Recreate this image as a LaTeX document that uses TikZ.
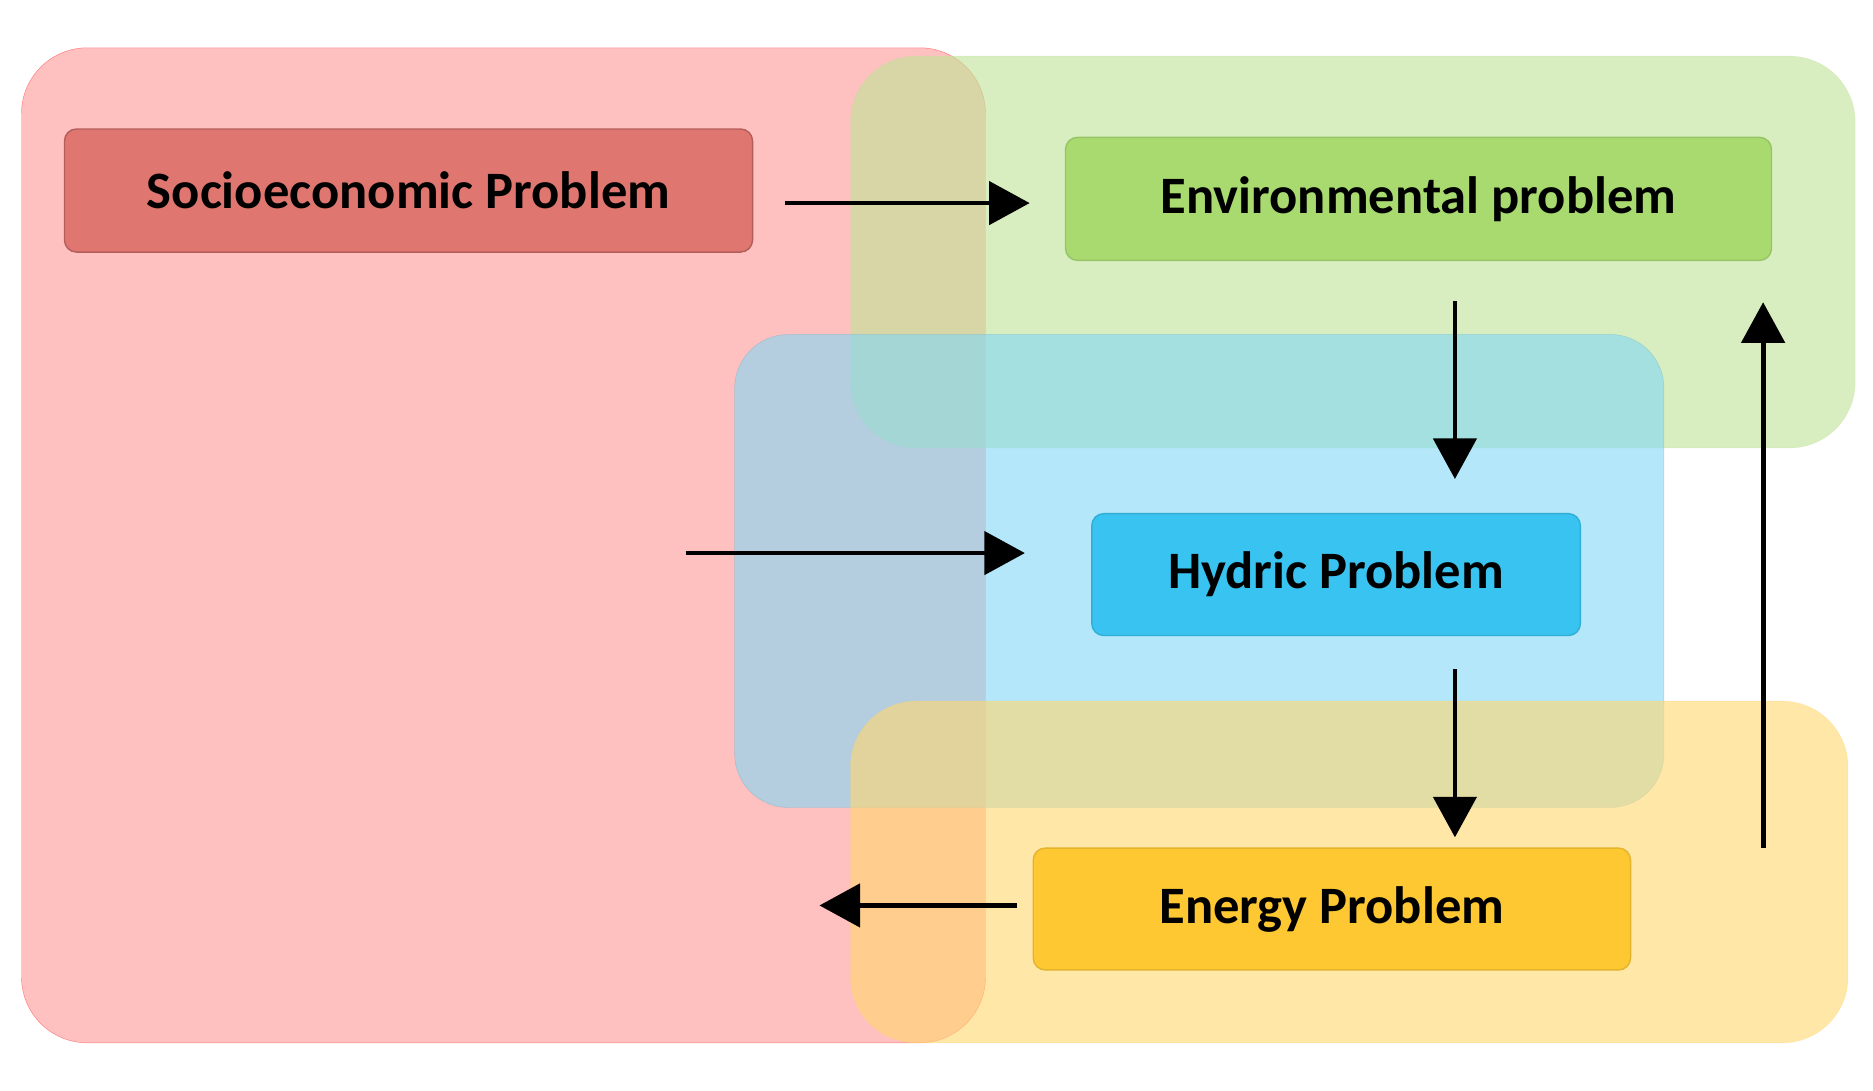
\documentclass[tikz,border=0pt]{standalone}
\usepackage{fontspec}
\setmainfont{Carlito}
\usetikzlibrary{arrows.meta}
\definecolor{rR}{RGB}{255,150,150}
\definecolor{rG}{RGB}{190,228,150}
\definecolor{rB}{RGB}{130,215,245}
\definecolor{rY}{RGB}{255,215,110}
\definecolor{bR}{RGB}{224,118,112}
\definecolor{bG}{RGB}{168,218,112}
\definecolor{bB}{RGB}{56,195,240}
\definecolor{bY}{RGB}{253,200,50}
\begin{document}
\begin{tikzpicture}[x=1pt,y=-1pt,
 region/.style={rounded corners=55pt,fill opacity=0.6,draw opacity=0.4},
 box/.style={rounded corners=10pt,line width=1.2pt,font=\fontsize{44}{48}\selectfont\bfseries,text=black},
 arr/.style={line width=4pt,-{Triangle[length=34pt,width=36pt]}}]
\useasboundingbox (0,0) rectangle (1568,913);
\fill[white] (0,0) rectangle (1568,913);
\draw[region,fill=rR,draw=red] (18,40) rectangle (825,873);
\draw[region,fill=rG,draw=rG] (712,47) rectangle (1553,375);
\draw[region,fill=rB,draw=rB!80!black,rounded corners=45pt] (615,280) rectangle (1393,676);
\draw[region,fill=rY,draw=rY] (712,587) rectangle (1547,873);
\node[box,fill=bR,draw=bR!80!black,minimum width=576pt,minimum height=103pt] (soc) at (342,159.5) {Socioeconomic Problem};
\node[box,fill=bG,draw=bG!90!black,minimum width=591pt,minimum height=103pt] (env) at (1187.5,166.5) {Environmental problem};
\node[box,fill=bB,draw=bB!90!black,minimum width=409pt,minimum height=102pt] (hyd) at (1118.5,481) {Hydric Problem};
\node[box,fill=bY,draw=bY!90!black,minimum width=500pt,minimum height=102pt] (ene) at (1115,761) {Energy Problem};
\coordinate (a1) at (657,170); \coordinate (a2) at (862,170);
\coordinate (b1) at (1218,252); \coordinate (b2) at (1218,401);
\coordinate (c1) at (574,463); \coordinate (c2) at (858,463);
\coordinate (d1) at (1218,560); \coordinate (d2) at (1218,701);
\coordinate (e1) at (851,758); \coordinate (e2) at (686,758);
\coordinate (f1) at (1476,710); \coordinate (f2) at (1476,253);
\draw[arr] (a1) -- (a2);
\draw[arr] (b1) -- (b2);
\draw[arr] (c1) -- (c2);
\draw[arr] (d1) -- (d2);
\draw[arr] (e1) -- (e2);
\draw[arr] (f1) -- (f2);
\end{tikzpicture}
\end{document}
